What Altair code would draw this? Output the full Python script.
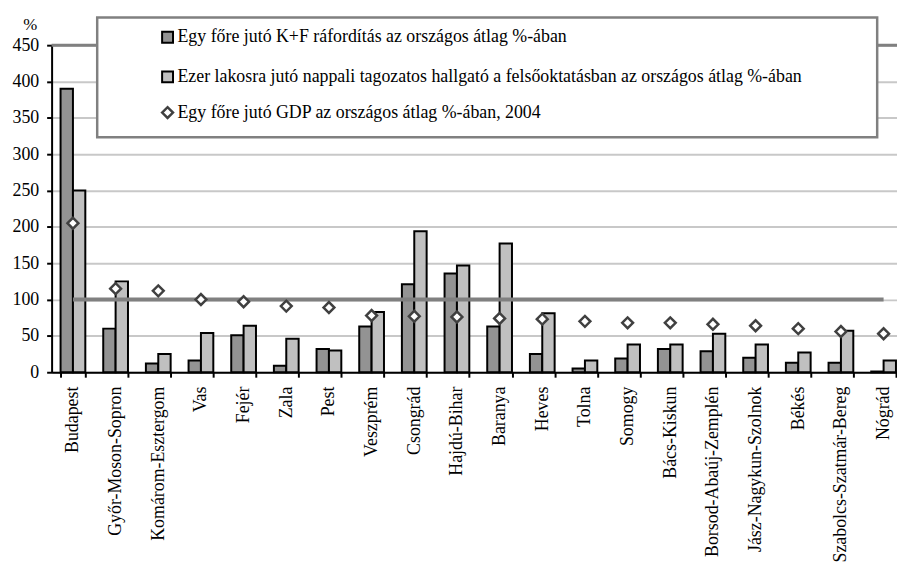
import altair as alt
import pandas as pd

# ---- data ----
counties = [
    "Budapest", "Győr-Moson-Sopron", "Komárom-Esztergom", "Vas", "Fejér", "Zala",
    "Pest", "Veszprém", "Csongrád", "Hajdú-Bihar", "Baranya", "Heves", "Tolna",
    "Somogy", "Bács-Kiskun", "Borsod-Abaúj-Zemplén", "Jász-Nagykun-Szolnok",
    "Békés", "Szabolcs-Szatmár-Bereg", "Nógrád",
]
kf_spending = [390, 60, 12, 16, 51, 9, 32, 63, 121, 136, 63, 25, 5, 19, 32, 29, 20, 13, 13, 1]
students = [250, 125, 25, 54, 64, 46, 30, 83, 194, 147, 177, 81, 16, 38, 38, 53, 38, 27, 57, 16]
gdp = [205, 115, 112, 100, 97, 91, 89, 78, 77, 76, 74, 73, 70, 68, 68, 66, 64, 60, 56, 53]
series_names = [
    "Egy főre jutó K+F ráfordítás az országos átlag %-ában",
    "Ezer lakosra jutó nappali tagozatos hallgató a felsőoktatásban az országos átlag %-ában",
    "Egy főre jutó GDP az országos átlag %-ában, 2004",
]
y_ticks = [0, 50, 100, 150, 200, 250, 300, 350, 400, 450]
reference_level = 100
y_max = 450

FONT = "Liberation Serif, Times New Roman, DejaVu Serif, serif"
DARK = "#939393"
LIGHT = "#c0c0c0"

bars_df = pd.DataFrame({
    "county": counties * 2,
    "series": [series_names[0]] * len(counties) + [series_names[1]] * len(counties),
    "value": kf_spending + students,
})
gdp_df = pd.DataFrame({"county": counties, "value": gdp})
ref_df = pd.DataFrame({"county": counties, "value": [reference_level] * len(counties)})
top_df = pd.DataFrame({"value": [y_max]})

x_scale = alt.Scale(domain=counties, range=[0, 861], paddingInner=0.42, paddingOuter=0.21)
y_scale = alt.Scale(domain=[0, y_max], nice=False, zero=True)

x_axis = alt.Axis(
    title=None, labelAngle=270, labelFont=FONT, labelFontSize=18, labelColor="black",
    tickBand="extent", tickColor="black", tickSize=5, tickWidth=2,
    domainColor="black", domainWidth=2, labelPadding=9, grid=False, labelLimit=400,
    labelOverlap=False,
)
y_axis = alt.Axis(
    values=y_ticks, title="%", titleAngle=0, titleX=-22, titleY=-16,
    titleAlign="center", titleBaseline="alphabetic", titleFont=FONT,
    titleFontSize=17, titleFontWeight="normal", titleColor="black",
    labelFont=FONT, labelFontSize=18, labelColor="black", labelOverlap=False,
    tickColor="black", tickSize=5, tickWidth=2,
    domainColor="black", domainWidth=2, labelPadding=8,
    grid=True, gridColor="#c8c8c8", gridWidth=2,
)

X = alt.X("county:N", scale=x_scale, sort=counties, axis=x_axis)
Y = alt.Y("value:Q", scale=y_scale, axis=y_axis)

bars = alt.Chart(bars_df).mark_bar(stroke="black", strokeWidth=2).encode(
    x=X,
    xOffset=alt.XOffset("series:N", scale=alt.Scale(domain=series_names[:2], paddingInner=0)),
    y=Y,
    fill=alt.Fill("series:N", scale=alt.Scale(domain=series_names[:2], range=[DARK, LIGHT]), legend=None),
)

top_line = alt.Chart(top_df).mark_rule(color="#808080", strokeWidth=3).encode(y=Y)

ref_line = alt.Chart(ref_df).mark_line(color="#808080", strokeWidth=4).encode(x=X, y=Y)

points = alt.Chart(gdp_df).mark_point(
    shape="diamond", filled=True, fill="white", stroke="#404040", strokeWidth=2.5,
    size=120, opacity=1,
).encode(x=X, y=Y)

# ---- legend box (layout only) ----
one = pd.DataFrame({"k": [0]})
legend_box = alt.Chart(one).mark_rect(fill="white", stroke="#808080", strokeWidth=2.5).encode(
    x=alt.value(46), x2=alt.value(833), y=alt.value(-28), y2=alt.value(93),
)
row_y = [-8, 32, 68]
sym_x = 117
text_x = 127
legend_layers = [legend_box]
for i, color in enumerate([DARK, LIGHT]):
    legend_layers.append(
        alt.Chart(one).mark_point(shape="square", filled=True, fill=color, stroke="black",
                                  strokeWidth=2, size=121, opacity=1)
        .encode(x=alt.value(sym_x), y=alt.value(row_y[i]))
    )
legend_layers.append(
    alt.Chart(one).mark_point(shape="diamond", filled=True, fill="white", stroke="#404040",
                              strokeWidth=2.5, size=120, opacity=1)
    .encode(x=alt.value(sym_x), y=alt.value(row_y[2]))
)
for i, name in enumerate(series_names):
    legend_layers.append(
        alt.Chart(pd.DataFrame({"label": [name]})).mark_text(
            font=FONT, fontSize=18, align="left", baseline="middle", color="black"
        ).encode(text="label:N", x=alt.value(text_x), y=alt.value(row_y[i]))
    )

chart = alt.layer(bars, top_line, ref_line, points, *legend_layers).properties(
    width=853, height=330,
    padding={"left": 44, "top": 35, "right": 0, "bottom": 193},
    autosize=alt.AutoSizeParams(type="none"),
    background="white",
).configure_view(stroke=None).configure_axis(
    labelFont=FONT, titleFont=FONT, labelFontSize=18,
).configure_text(font=FONT)

chart.save("out.html", embed_options={"renderer": "svg", "actions": False})
